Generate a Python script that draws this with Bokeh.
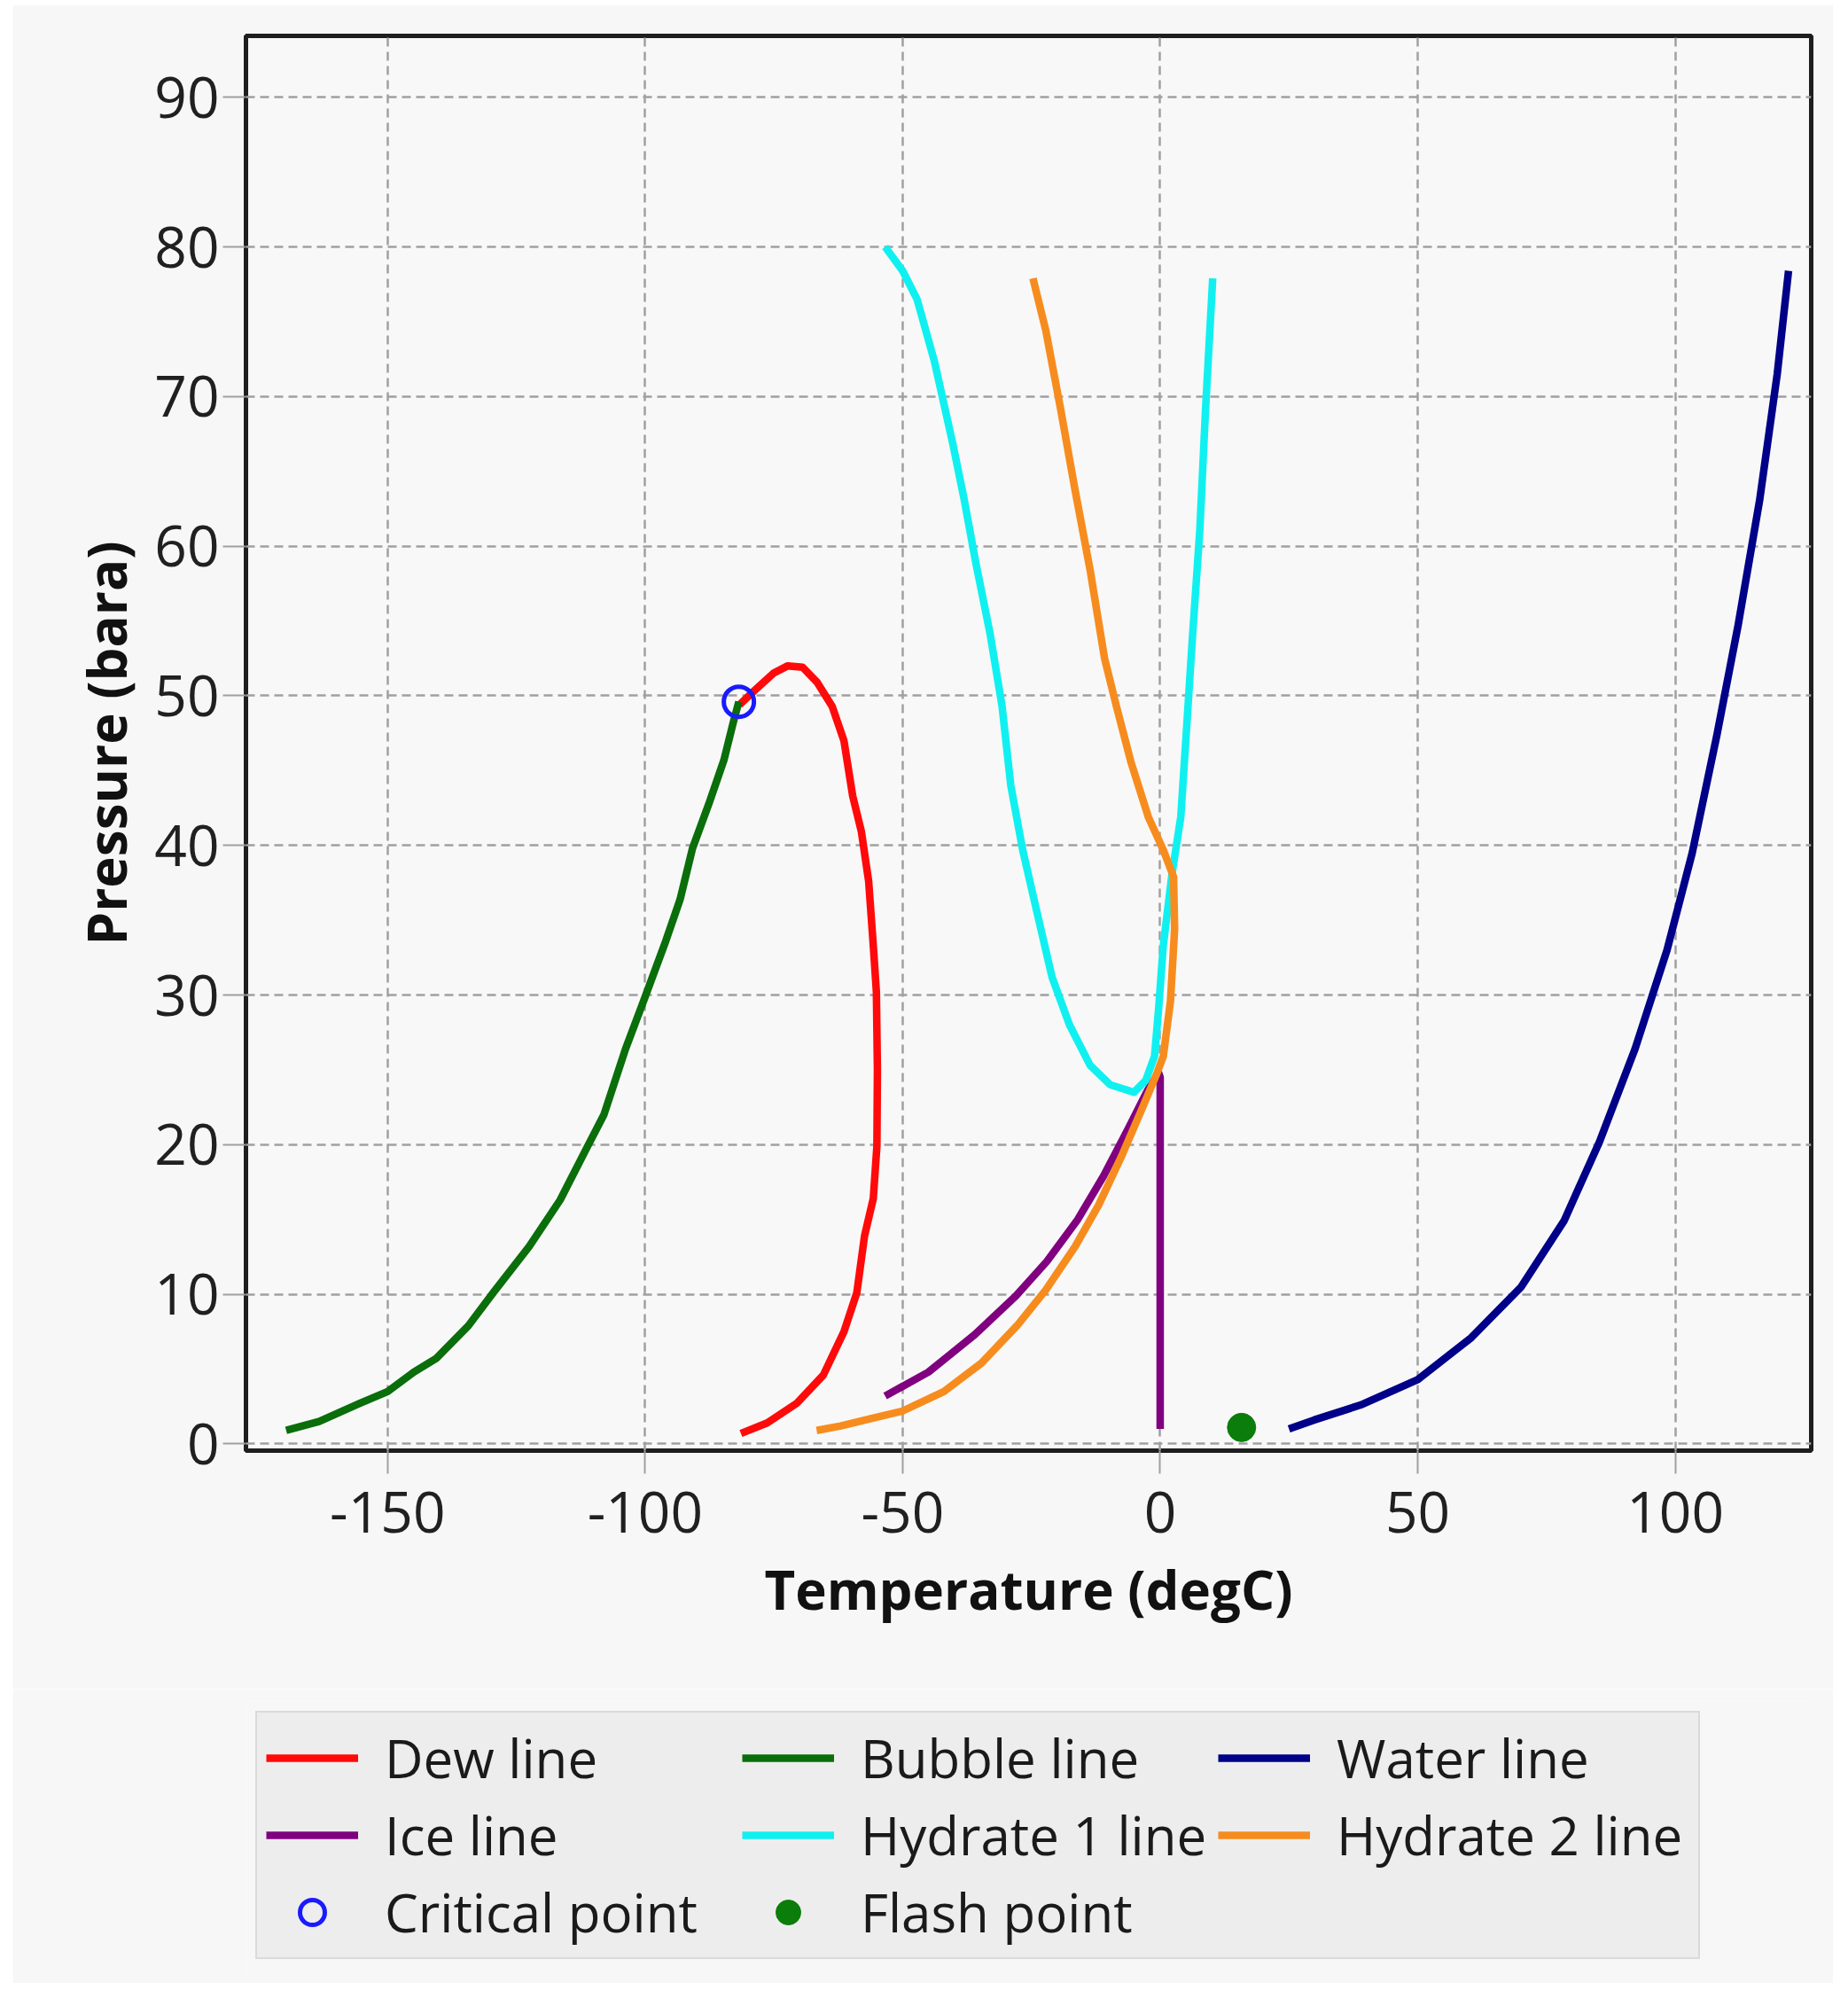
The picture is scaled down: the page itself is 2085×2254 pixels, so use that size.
from bokeh.plotting import figure
from bokeh.models import (FixedTicker, Legend, LegendItem, Range1d,
                          PrintfTickFormatter, Spacer)
from bokeh.layouts import column, row
from bokeh.embed import file_html
from bokeh.resources import INLINE

# ---------------- data ----------------
dew_T = [-81.7, -78.6, -75.1, -72.3, -69.4, -66.6, -63.7, -61.4, -59.7, -58.0, -56.6,
         -55.7, -55.1, -54.9, -55.0, -55.7, -57.4, -58.9, -61.4, -65.4, -70.6, -76.3, -81.4]
dew_P = [49.4, 50.4, 51.5, 52.0, 51.9, 50.9, 49.3, 47.0, 43.3, 40.9, 37.6,
         33.3, 30.2, 25.0, 19.9, 16.4, 13.9, 10.1, 7.5, 4.6, 2.7, 1.4, 0.7]

bubble_T = [-169.7, -163.3, -155.5, -150.0, -144.9, -140.6, -134.3, -129.5, -122.5, -116.5,
            -111.3, -108.0, -103.8, -100.3, -96.0, -93.2, -90.8, -87.5, -84.7, -82.9, -81.8]
bubble_P = [0.9, 1.5, 2.7, 3.5, 4.8, 5.7, 7.9, 10.1, 13.2, 16.3,
            19.8, 22.0, 26.4, 29.6, 33.6, 36.4, 39.8, 42.9, 45.7, 48.2, 49.6]

water_T = [25.0, 29.9, 38.9, 50.0, 60.4, 70.1, 78.4, 85.3, 92.2, 98.4,
           103.3, 108.1, 112.2, 116.4, 119.8, 122.0]
water_P = [1.0, 1.6, 2.6, 4.3, 7.1, 10.5, 14.9, 20.2, 26.4, 33.0,
           39.5, 47.4, 54.7, 63.1, 71.5, 78.4]

ice_T = [-53.4, -45.0, -36.0, -28.0, -22.0, -16.0, -11.0, -6.0, -2.5, -0.3, 0.0, 0.0]
ice_P = [3.2, 4.8, 7.3, 9.9, 12.2, 15.0, 17.9, 21.2, 23.6, 24.8, 24.5, 1.0]

hyd1_T = [-53.4, -50.0, -47.2, -43.8, -40.3, -38.1, -35.8, -33.0, -30.7, -29.0, -26.7,
          -23.9, -21.0, -17.6, -13.6, -9.7, -5.1, -2.8, -1.1, -0.3, 0.6, 2.3, 4.0,
          5.1, 6.3, 7.7, 8.8, 10.2]
hyd1_P = [80.0, 78.4, 76.5, 72.3, 66.9, 63.2, 58.9, 54.1, 49.3, 44.0, 39.7,
          35.5, 31.2, 28.0, 25.3, 24.0, 23.5, 24.3, 25.9, 29.1, 33.3, 38.1, 41.9,
          47.7, 54.1, 61.1, 69.1, 77.9]

hyd2_T = [-66.7, -62.0, -56.0, -50.0, -42.0, -34.7, -27.8, -22.2, -16.5, -11.9, -7.4,
          -3.4, -0.6, 0.6, 2.0, 2.8, 2.6, 0.6, -2.3, -5.7, -8.5, -10.8, -13.6,
          -16.5, -19.3, -22.2, -24.7]
hyd2_P = [0.9, 1.2, 1.7, 2.2, 3.5, 5.4, 7.9, 10.3, 13.2, 16.0, 19.3,
          22.5, 24.8, 25.9, 29.6, 34.4, 37.9, 39.7, 41.9, 45.6, 49.3, 52.5, 58.4,
          63.7, 69.1, 74.4, 77.9]

critical_T = [-81.8]
critical_P = [49.6]
flash_T = [15.8]
flash_P = [1.1]

x_ticks = [-150, -100, -50, 0, 50, 100]
y_ticks = [0, 10, 20, 30, 40, 50, 60, 70, 80, 90]

line_series = [
    ("Dew line", dew_T, dew_P, "#ff0a0a"),
    ("Bubble line", bubble_T, bubble_P, "#0a6e0a"),
    ("Water line", water_T, water_P, "#000088"),
    ("Ice line", ice_T, ice_P, "#800080"),
    ("Hydrate 1 line", hyd1_T, hyd1_P, "#11f0f0"),
    ("Hydrate 2 line", hyd2_T, hyd2_P, "#f78c1e"),
]

BG = "#f7f7f7"
W = 2054
H_MAIN = 1900
H_LEG = 332
LW = 8.5

# ---------------- main figure ----------------
p = figure(width=W, height=H_MAIN, output_backend="svg", toolbar_location=None,
           x_range=Range1d(-177.5, 126.4), y_range=Range1d(-0.45, 94.1),
           min_border_left=263, min_border_right=25, min_border_top=35,
           min_border_bottom=269)
p.background_fill_color = "#f8f8f8"
p.border_fill_color = BG
p.outline_line_color = "#1e1e1e"
p.outline_line_width = 5

for ax in (p.xaxis[0], p.yaxis[0]):
    ax.axis_line_color = None
    ax.major_tick_line_color = "#a0a0a0"
    ax.major_tick_line_width = 2
    ax.major_tick_in = 0
    ax.major_tick_out = 26
    ax.minor_tick_line_color = None
    ax.major_label_text_font = "Open Sans"
    ax.major_label_text_font_size = "64px"
    ax.major_label_text_color = "#202020"
    ax.axis_label_text_font = "Open Sans"
    ax.axis_label_text_font_style = "bold"
    ax.axis_label_text_font_size = "60px"
    ax.axis_label_text_color = "#111111"
    ax.formatter = PrintfTickFormatter(format="%d")

p.xaxis.ticker = FixedTicker(ticks=x_ticks)
p.yaxis.ticker = FixedTicker(ticks=y_ticks)
p.xaxis.axis_label = "Temperature (degC)"
p.yaxis.axis_label = "Pressure (bara)"
p.xaxis.major_label_standoff = 20
p.xaxis.axis_label_standoff = 20
p.yaxis.major_label_standoff = 4
p.yaxis.axis_label_standoff = 10

p.grid.grid_line_color = "#a0a0a0"
p.grid.grid_line_width = 2.5
p.grid.grid_line_dash = "10 6"

for name, xs, ys, col in line_series:
    p.line(xs, ys, line_color=col, line_width=LW, line_join="round")
p.scatter(critical_T, critical_P, marker="circle", size=34, fill_color=None,
          line_color="#1a1aff", line_width=5)
p.scatter(flash_T, flash_P, marker="circle", size=32, fill_color="#0a7d0a",
          line_color="#0a7d0a")

# ---------------- legend panel (separate figure, same series & styles) ----------------
pl = figure(width=W, height=H_LEG, output_backend="svg", toolbar_location=None,
            x_range=Range1d(1000, 1001), y_range=Range1d(1000, 1001),
            x_axis_location=None, y_axis_location=None,
            min_border_left=249, min_border_right=0, min_border_top=14,
            min_border_bottom=0)
pl.grid.visible = False
pl.outline_line_color = None
pl.background_fill_color = BG
pl.border_fill_color = BG

items = []
for name, xs, ys, col in line_series:
    r = pl.line(xs, ys, line_color=col, line_width=LW)
    items.append(LegendItem(label=name, renderers=[r]))
rc = pl.scatter(critical_T, critical_P, marker="circle", size=34, fill_color=None,
                line_color="#1a1aff", line_width=5)
items.append(LegendItem(label="Critical point", renderers=[rc]))
rf = pl.scatter(flash_T, flash_P, marker="circle", size=32, fill_color="#0a7d0a",
                line_color="#0a7d0a")
items.append(LegendItem(label="Flash point", renderers=[rf]))

legend = Legend(items=items, location="top_left", orientation="horizontal", ncols=3)
legend.label_text_font = "Open Sans"
legend.label_text_font_size = "60px"
legend.label_text_color = "#1a1a1a"
legend.glyph_width = 104
legend.glyph_height = 70
legend.label_standoff = 30
legend.label_height = 70
legend.label_width = 398
legend.spacing = 5
legend.padding = 10
legend.margin = 11
legend.background_fill_color = "#ededed"
legend.background_fill_alpha = 1.0
legend.border_line_color = "#c8c8c8"
legend.border_line_width = 2
pl.add_layout(legend, "center")

layout = column(Spacer(height=5), row(Spacer(width=14), column(p, pl)))
open("out.html", "w").write(file_html(layout, INLINE))
